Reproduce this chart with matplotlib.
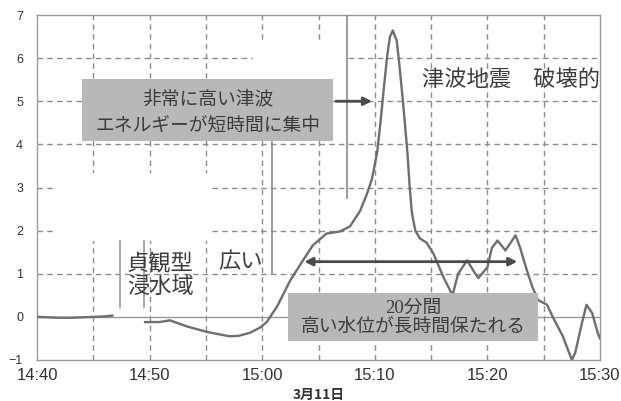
import matplotlib
matplotlib.use("Agg")
import matplotlib.pyplot as plt
from matplotlib.patches import Rectangle

# ---- data (minutes after 14:40) ----
early_t = [0, 1, 2, 3, 4, 5, 6, 6.7]
early_y = [0.0, -0.01, -0.02, -0.02, -0.01, 0.0, 0.01, 0.03]

main_t = [9.6, 10.9, 11.8, 13.3, 15.1, 17.1, 17.9, 18.9, 19.8, 20.4, 21.3, 22.5,
          23.5, 24.5, 25.7, 26.9, 27.8, 28.7, 29.3, 29.75, 30.2, 30.5, 30.8, 31.1,
          31.35, 31.6, 31.95, 32.2, 32.5, 32.9, 33.1, 33.3, 33.6, 34.0, 34.6, 35.2,
          36.1, 36.9, 37.4, 38.2, 38.9, 39.2, 40.0, 40.4, 40.9, 41.6, 42.5, 42.9,
          43.5, 44.0, 44.5, 45.3, 45.8, 46.7, 47.5, 47.8, 48.4, 48.8, 49.3, 49.8, 50.0]
main_y = [-0.12, -0.12, -0.08, -0.22, -0.35, -0.45, -0.44, -0.37, -0.25, -0.12, 0.23, 0.85,
          1.26, 1.66, 1.93, 1.98, 2.1, 2.46, 2.85, 3.2, 3.8, 4.5, 5.3, 6.05,
          6.5, 6.64, 6.4, 5.8, 5.0, 3.8, 3.0, 2.4, 2.0, 1.82, 1.72, 1.47,
          0.92, 0.5, 1.0, 1.31, 1.01, 0.9, 1.15, 1.6, 1.77, 1.54, 1.89, 1.61,
          1.08, 0.69, 0.39, 0.28, 0.0, -0.45, -1.0, -0.83, -0.14, 0.28, 0.09, -0.37, -0.5]

xtick_pos = [0, 10, 20, 30, 40, 50]
xtick_labels = ["14:40", "14:50", "15:00", "15:10", "15:20", "15:30"]
ytick_pos = [-1, 0, 1, 2, 3, 4, 5, 6, 7]
xlabel = "3月11日"

box1_text = "非常に高い津波\nエネルギーが短時間に集中"
box2_text = "20分間\n高い水位が長時間保たれる"
label_big = "津波地震\u3000破壊的"
label_jogan = "貞観型\n浸水域"
label_wide = "広い"

JP = ["Noto Sans CJK JP", "DejaVu Sans"]
TXT = "#3c3c3c"
GRID = "#8c8c8c"

fig = plt.figure(figsize=(6.21, 4.01), dpi=100)
ax = fig.add_axes([37/621, 1-360/401, 563/621, 345/401])
ax.set_xlim(0, 50)
ax.set_ylim(-1, 7)

# grid
for x in [5, 10, 15, 20, 25, 30, 35, 40, 45]:
    ax.axvline(x, color=GRID, lw=1.0, ls=(0, (4, 3)), zorder=1)
for y in [1, 2, 3, 4, 5, 6]:
    ax.axhline(y, color=GRID, lw=1.0, ls=(0, (4, 3)), zorder=1)
ax.axhline(0, color="#999999", lw=1.0, zorder=1)

# white patches hiding parts of the grid (as in the scanned figure)
ax.add_patch(Rectangle((1.6, 1.77), 13.9, 1.56, facecolor="white", edgecolor="none", zorder=2))
ax.add_patch(Rectangle((19.2, 5.52), 8.3, 0.9, facecolor="white", edgecolor="none", zorder=2))

# remnant vertical lines
ax.plot([7.4, 7.4], [0.23, 1.77], color="#9a9a9a", lw=1.2, zorder=3)
ax.plot([9.5, 9.5], [0.23, 1.77], color="#9a9a9a", lw=1.2, zorder=3)
ax.plot([20.9, 20.9], [1.0, 4.07], color="#8a8a8a", lw=1.2, zorder=3)
ax.plot([27.5, 27.5], [2.76, 7.0], color="#8a8a8a", lw=1.2, zorder=3)

# data
ax.plot(early_t, early_y, color="#6e6e6e", lw=1.7, zorder=4)
ax.plot(main_t, main_y, color="#6e6e6e", lw=1.7, zorder=4)

# box 1
ax.add_patch(Rectangle((4.0, 4.07), 22.3, 1.45, facecolor="#b8b8b8", edgecolor="none", zorder=5))
ax.text(15.15, 4.75, box1_text, ha="center", va="center", fontsize=13.5, color=TXT,
        family=JP, linespacing=1.3, zorder=6)
ax.annotate("", xy=(30.0, 5.0), xytext=(26.3, 5.0),
            arrowprops=dict(arrowstyle="-|>", color="#4a4a4a", lw=2.0, mutation_scale=12),
            zorder=6)

# box 2
ax.add_patch(Rectangle((22.3, -0.57), 22.2, 1.12, facecolor="#b8b8b8", edgecolor="none", zorder=5))
ax.text(33.45, -0.04, box2_text, ha="center", va="center", fontsize=13.5, color=TXT,
        family=["Liberation Serif", "Noto Sans CJK JP"], linespacing=1.2, zorder=6)

# double arrow
ax.annotate("", xy=(23.5, 1.28), xytext=(42.9, 1.28),
            arrowprops=dict(arrowstyle="<|-|>", color="#4a4a4a", lw=2.0, mutation_scale=12),
            zorder=6)

# other labels
ax.text(34.2, 5.52, label_big, ha="left", va="center", fontsize=16, color=TXT, family=JP, zorder=6)
ax.text(8.0, 0.98, label_jogan, ha="left", va="center", fontsize=16, color=TXT, family=JP,
        linespacing=1.05, zorder=6)
ax.text(16.1, 1.27, label_wide, ha="left", va="center", fontsize=16, color=TXT, family=JP, zorder=6)

# axes styling
for s in ax.spines.values():
    s.set_color("#9a9a9a")
    s.set_linewidth(1.0)
ax.set_xticks(xtick_pos)
ax.set_xticklabels(xtick_labels, family=["Liberation Sans"], fontsize=12, color="#333333")
ax.set_yticks(ytick_pos)
ax.set_yticklabels([str(v) if v >= 0 else "\u2212" + str(-v) for v in ytick_pos],
                   family=["Liberation Sans"], fontsize=9, color="#333333")
ax.tick_params(axis="both", length=0, pad=6)
ax.tick_params(axis="y", pad=10)
ax.set_xlabel(xlabel, family=JP, fontsize=10, fontweight="bold", color="#333333", labelpad=3)

fig.savefig("out.png", dpi=100)
